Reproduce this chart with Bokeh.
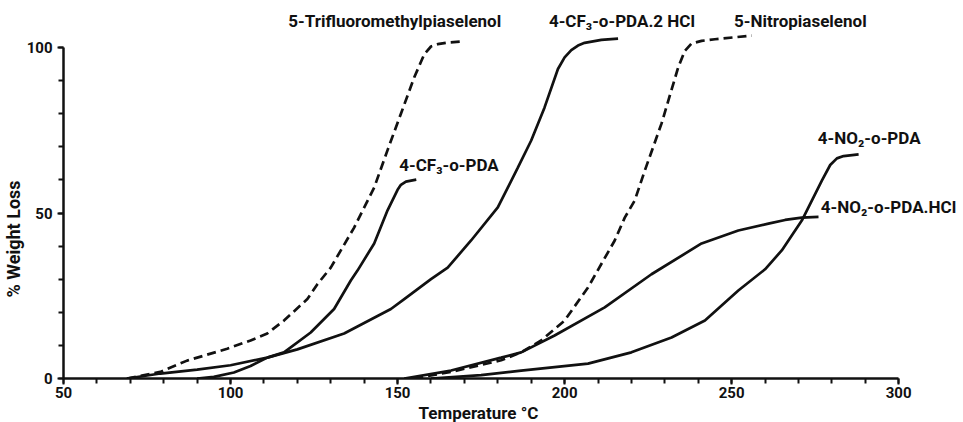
from bokeh.plotting import figure
from bokeh.models import FixedTicker, Range1d, Title
from bokeh.embed import file_html
from bokeh.resources import INLINE
from bokeh.core.properties import value

# ---- data (temperature in °C, % weight loss) ----
tfmp_t = [69, 79, 87, 99, 106, 111, 116, 123, 126, 130, 137, 143, 147, 151, 155, 158, 160, 162, 165, 169]
tfmp_y = [0, 2, 5.4, 9, 11.5, 13.6, 17.5, 24, 28.5, 33.5, 45.6, 57.7, 69, 80, 91, 98, 100.3, 101, 101.5, 101.8]

cf3_t = [90, 95, 101, 106, 111, 116, 124, 131, 136, 138, 143, 147, 150, 151, 152.5, 155.6]
cf3_y = [0, 0.5, 1.8, 3.8, 6.3, 7.9, 13.9, 21, 29.6, 32.6, 40.8, 50.8, 57.0, 58.5, 59.5, 60.1]

cf3hcl_t = [69, 79, 90, 100, 111, 120, 134, 148, 152, 160, 165, 172, 180, 186, 190, 194, 198, 200, 202, 204, 206, 211, 216]
cf3hcl_y = [0, 1.5, 2.7, 4, 6.3, 8.8, 13.6, 21, 24, 30, 33.5, 41.7, 51.7, 63.7, 71.9, 81.9, 93.5, 97, 99.2, 100.6, 101.4, 102.3, 102.7]

nitro_t = [155, 166, 181, 187, 193, 200, 207, 215, 218, 221, 224, 229, 234, 236, 238, 241, 245, 256]
nitro_y = [0, 2, 5.5, 7.9, 11.5, 17.5, 27.5, 41.7, 48.6, 53.8, 62.8, 77, 94, 99, 101.2, 102, 102.5, 103.6]

no2hcl_t = [152, 166, 181, 187, 197, 212, 226, 241, 252, 261, 266, 271, 276]
no2hcl_y = [0, 2.4, 6.3, 7.9, 13, 21.5, 31.5, 40.8, 44.7, 46.8, 47.9, 48.6, 48.8]

no2_t = [160, 175, 187, 207, 220, 232, 242, 252, 260, 265, 271, 277, 279.5, 281.5, 283.5, 288]
no2_y = [0, 1, 2.4, 4.5, 7.9, 12.4, 17.5, 26.6, 33, 38.7, 47.7, 59.8, 64.5, 66.5, 67.2, 67.7]

label_texts = ["5-Trifluoromethylpiaselenol", "4-CF₃-o-PDA.2 HCl", "5-Nitropiaselenol",
               "4-CF₃-o-PDA", "4-NO₂-o-PDA", "4-NO₂-o-PDA.HCl"]
label_x = [117.3, 195.3, 250.7, 150.5, 275.8, 276.7]
label_y = [107.9, 107.9, 108.0, 64.4, 72.8, 51.7]

x_major = [50, 100, 150, 200, 250, 300]
x_minor = list(range(50, 301, 10))
y_major = [0, 50, 100]
y_minor = list(range(0, 101, 10))

FONT = "Roboto"
INK = "#111111"

p = figure(width=963, height=422, output_backend="svg", toolbar_location=None,
           x_range=Range1d(50, 319.4), y_range=Range1d(0, 114.2),
           min_border_left=62, min_border_right=0, min_border_top=0, min_border_bottom=44,
           background_fill_color="white", border_fill_color="white")
p.outline_line_color = None
p.grid.visible = False

for ax in (p.xaxis[0], p.yaxis[0]):
    ax.axis_line_width = 2.5
    ax.axis_line_color = INK
    ax.major_tick_line_color = INK
    ax.minor_tick_line_color = INK
    ax.major_tick_line_width = 2
    ax.minor_tick_line_width = 2
    ax.major_tick_in = 0
    ax.minor_tick_in = 0
    ax.major_tick_out = 6
    ax.minor_tick_out = 5
    ax.major_label_text_font = FONT
    ax.major_label_text_font_style = "bold"
    ax.major_label_text_font_size = "15px"
    ax.major_label_text_color = INK

p.xaxis.ticker = FixedTicker(ticks=x_major, minor_ticks=x_minor)
p.yaxis.ticker = FixedTicker(ticks=y_major, minor_ticks=y_minor)
p.xaxis.bounds = (50, 300)
p.yaxis.bounds = (0, 100)
p.xaxis.major_label_standoff = 2
p.yaxis.major_label_standoff = 5

p.add_layout(Title(text="Temperature °C", align="left", offset=355, standoff=0,
                   text_font=FONT, text_font_style="bold", text_font_size="17px",
                   text_color=INK), "below")
p.add_layout(Title(text="% Weight Loss", align="left", offset=81, standoff=0,
                   text_font=FONT, text_font_style="bold", text_font_size="18px",
                   text_color=INK), "left")

dash = "9 5"
p.line(tfmp_t, tfmp_y, line_color=INK, line_width=2.7, line_dash=dash)
p.line(cf3_t, cf3_y, line_color=INK, line_width=2.7)
p.line(cf3hcl_t, cf3hcl_y, line_color=INK, line_width=2.7)
p.line(nitro_t, nitro_y, line_color=INK, line_width=2.7, line_dash=dash)
p.line(no2hcl_t, no2hcl_y, line_color=INK, line_width=2.7)
p.line(no2_t, no2_y, line_color=INK, line_width=2.7)

p.text(x=label_x, y=label_y, text=label_texts, text_font=value(FONT), text_font_style="bold",
       text_font_size="17px", text_color=INK, text_align="left", text_baseline="middle")

open("out.html", "w").write(file_html(p, INLINE))
